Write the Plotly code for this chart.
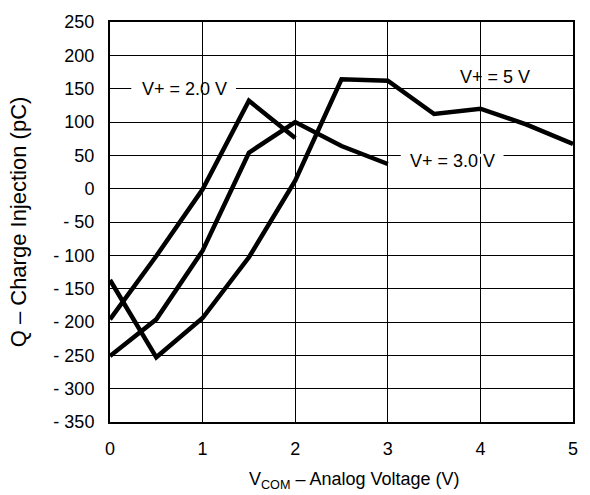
import plotly.graph_objects as go

# Data
x_5v = [0, 0.5, 1, 1.5, 2, 2.5, 3, 3.5, 4, 4.5, 5]
q_5v = [-137, -253, -194, -103, 12, 164, 162, 112, 120, 96, 67]
x_2v = [0, 0.5, 1, 1.5, 2]
q_2v = [-196, -101, -1, 132, 76]
x_3v = [0, 0.5, 1, 1.5, 2, 2.5, 3]
q_3v = [-251, -196, -93, 54, 100, 64, 37]

y_tickvals = [250, 200, 150, 100, 50, 0, -50, -100, -150, -200, -250, -300, -350]
y_ticktext = ["250", "200", "150", "100", "50", "0", "- 50", "- 100", "- 150",
              "- 200", "- 250", "- 300", "- 350"]
x_tickvals = [0, 1, 2, 3, 4, 5]

labels = [
    # text, x, y, gap x0, gap x1, yshift
    ("V+ = 2.0 V", 0.8, 150, 0.23, 1.36, 0),
    ("V+ = 3.0 V", 3.7, 50, 3.14, 4.25, -6),
    ("V+ = 5 V", 4.16, 168, None, None, 0),
]

FONT = "Liberation Sans, Arial, Helvetica, sans-serif"
FS = 18

fig = go.Figure()
for xs, ys, name in [(x_5v, q_5v, "V+ = 5 V"), (x_2v, q_2v, "V+ = 2.0 V"), (x_3v, q_3v, "V+ = 3.0 V")]:
    fig.add_trace(go.Scatter(x=xs, y=ys, mode="lines", name=name,
                             line=dict(color="black", width=4.5), showlegend=False))

for text, lx, ly, g0, g1, ys in labels:
    if g0 is not None:
        fig.add_shape(type="line", x0=g0, x1=g1, y0=ly, y1=ly, xref="x", yref="y",
                      line=dict(color="white", width=3), layer="between")
    fig.add_annotation(x=lx, y=ly, text=text, showarrow=False, yshift=ys,
                       font=dict(family=FONT, size=FS, color="black"))

# x-axis title (placed as annotation to match reference position)
fig.add_annotation(xref="paper", yref="paper", x=0.527, y=-0.145, yanchor="middle",
                   text="V<sub>COM</sub> – Analog Voltage (V)", showarrow=False,
                   font=dict(family=FONT, size=FS, color="black"))

fig.update_layout(
    width=590, height=495,
    margin=dict(l=110, r=15, t=17, b=73),
    paper_bgcolor="white", plot_bgcolor="white",
    font=dict(family=FONT, size=FS, color="black"),
    showlegend=False,
)
fig.update_xaxes(range=[0, 5], tickvals=x_tickvals, showgrid=True, gridcolor="black", gridwidth=1,
                 showline=True, linecolor="black", linewidth=2, mirror=True, zeroline=False,
                 ticks="", ticklabelstandoff=9)
fig.update_yaxes(range=[-350, 250], tickvals=y_tickvals, ticktext=y_ticktext, showgrid=True,
                 gridcolor="black", gridwidth=1, showline=True, linecolor="black", linewidth=2,
                 mirror=True, zeroline=False, ticks="", ticklabelstandoff=10,
                 title=dict(text="Q – Charge Injection (pC)", standoff=21))

fig.write_html("out.html")
